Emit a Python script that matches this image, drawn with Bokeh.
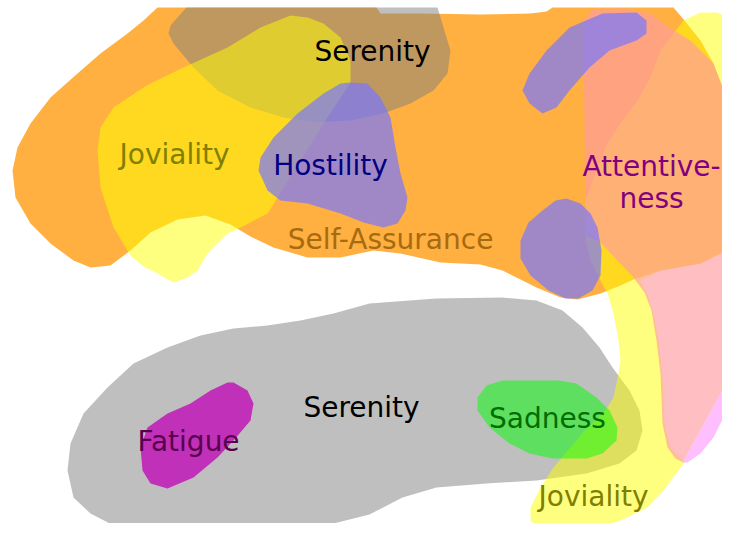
from bokeh.plotting import figure
from bokeh.models import Range1d, ColumnDataSource
from bokeh.core.properties import value
from bokeh.embed import file_html
from bokeh.resources import INLINE

# ---- region outlines (picture coordinates, y grows downward) ----
self_assurance = [(157,7),(143,20),(127,33),(100,53),(77,73),(50,97),(30,123),(17,147),(12,170),
    (15,197),(30,223),(50,243),(73,260),(90,267),(110,265),(130,250),(150,232),(177,219),(205,215),
    (230,224),(250,236),(273,247),(307,257),(340,257),(373,250),(400,253),(440,262),(480,264),
    (502,270),(536,287),(560,297),(577,299),(600,293),(620,285),(633,279),(660,270),(700,263),
    (720,253),(737,230),(737,180),(733,133),(727,100),(713,63),(700,40),(684,20),(673,7),
    (552,7),(546,11),(530,13),(480,14),(420,13),(380,13),(376,7)]
serenity_top = [(168,33),(173,43),(193,67),(217,90),(250,107),(283,117),(317,122),(350,120),
    (383,113),(410,103),(433,90),(447,73),(450,50),(443,27),(437,7),(186,7),(177,17),(170,25)]
serenity_low = [(369,303),(436,298),(502,297),(536,300),(562,310),(582,327),(599,347),(612,367),
    (629,390),(639,410),(642,430),(636,450),(619,463),(586,473),(536,480),(486,483),(436,487),
    (402,497),(369,514),(333,523),(300,526),(233,530),(200,531),(150,532),(117,527),(90,513),
    (73,497),(67,470),(70,443),(83,413),(107,387),(133,363),(167,347),(200,335),(233,328),
    (267,325),(300,320),(333,313)]
joviality_left = [(290,15),(307,17),(323,23),(340,37),(350,60),(350,82),(325,120),(300,160),
    (277,197),(267,213),(240,227),(227,233),(207,253),(197,270),(187,277),(173,282),(157,273),
    (143,266),(130,255),(113,227),(100,187),(97,150),(100,127),(113,107),(143,87),(150,83),
    (183,67),(227,47),(260,27)]
joviality_right = [(683,20),(700,12),(717,12),(733,20),(742,30),(742,200),(737,230),(720,253),
    (700,263),(660,270),(640,280),(648,297),(653,313),(658,340),(662,373),(664,423),(670,447),
    (684,462),(680,467),(663,490),(647,507),(620,520),(587,530),(557,535),(543,532),(530,520),
    (530,507),(540,487),(553,467),(570,447),(587,427),(603,413),(613,397),(618,373),(620,360),
    (618,340),(613,313),(607,293),(600,280),(590,260),(585,240),(585,200),(597,167),(607,143),
    (620,123),(637,100),(650,77),(660,50),(673,33)]
attentiveness_edge = [(737,345),(727,380),(707,417),(687,453),(683,462),(687,462),(700,453),
    (713,437),(723,417),(733,390),(738,360)]
attentiveness = [(583,20),(592,9),(620,8),(650,13),(670,28),(690,40),(713,63),(727,100),
    (733,133),(736,180),(736,300),(737,345),(727,380),(707,417),(687,453),(683,462),(675,458),
    (667,447),(662,423),(660,373),(656,340),(651,310),(644,292),(633,277),(615,258),(600,242),
    (585,235)]
hostility_main = [(350,82),(367,83),(380,97),(390,117),(395,147),(400,173),(407,197),(405,210),
    (397,223),(383,227),(363,222),(340,213),(307,203),(280,200),(267,190),(258,170),(260,157),
    (273,137),(297,113),(323,93),(340,83)]
hostility_top = [(522,90),(529,73),(546,50),(569,27),(602,13),(636,12),(646,20),(646,33),
    (636,40),(609,50),(589,67),(569,90),(556,107),(542,113),(529,103)]
hostility_low = [(566,198),(580,203),(590,213),(597,227),(601,250),(600,275),(592,290),(578,298),
    (565,298),(548,290),(530,275),(520,258),(520,240),(528,222),(542,210),(555,200)]
sadness = [(502,380),(559,380),(576,383),(596,397),(609,410),(617,427),(616,440),(602,453),
    (586,458),(552,458),(529,453),(509,443),(489,427),(477,410),(477,397),(486,385)]
fatigue = [(233,382),(247,390),(253,403),(250,420),(233,440),(217,457),(193,477),(167,488),
    (150,483),(142,470),(140,447),(147,427),(167,413),(190,403),(210,390),(227,382)]

# ---- labels ----
label_text = ["Serenity", "Joviality", "Hostility", "Self-Assurance", "Attentive-", "ness",
              "Serenity", "Fatigue", "Sadness", "Joviality"]
label_x = [372, 174, 330, 390, 651, 651, 361, 188, 547, 593]
label_y = [51, 154, 165, 239, 166, 198, 407, 441, 418, 496]
label_color = ["#000000", "#808000", "#000080", "#A86A10", "#800080", "#800080",
               "#000000", "#58004E", "#006E00", "#808000"]

p = figure(width=722, height=523, x_range=Range1d(0, 722), y_range=Range1d(523, 0),
           output_backend="svg", toolbar_location=None, min_border=0)
p.xaxis.visible = False
p.yaxis.visible = False
p.xgrid.visible = False
p.ygrid.visible = False
p.outline_line_color = None
p.background_fill_color = "white"

def blob(pts, color, alpha):
    xs = [q[0] for q in pts]
    ys = [q[1] for q in pts]
    p.patch(xs, ys, fill_color=color, fill_alpha=alpha, line_color=None)

blob(self_assurance, "#FFB040", 1.0)
blob(serenity_top, "#808080", 0.5)
blob(serenity_low, "#808080", 0.5)
blob(joviality_left, "#FFFF00", 0.5)
blob(joviality_right, "#FFFF00", 0.5)
blob(attentiveness_edge, "#FF00FF", 0.25)
blob(attentiveness, "#FF9BA2", 0.65)
blob(hostility_main, "#7878FF", 0.7)
blob(hostility_top, "#7878FF", 0.7)
blob(hostility_low, "#7878FF", 0.7)
blob(sadness, "#00FF00", 0.5)
blob(fatigue, "#C030B8", 1.0)

src = ColumnDataSource(dict(x=label_x, y=label_y, text=label_text, color=label_color))
p.text(x="x", y="y", text="text", text_color="color", source=src,
       text_font=value("DejaVu Sans"), text_font_size="28px",
       text_align="center", text_baseline="middle")

open("out.html", "w").write(file_html(p, INLINE))
